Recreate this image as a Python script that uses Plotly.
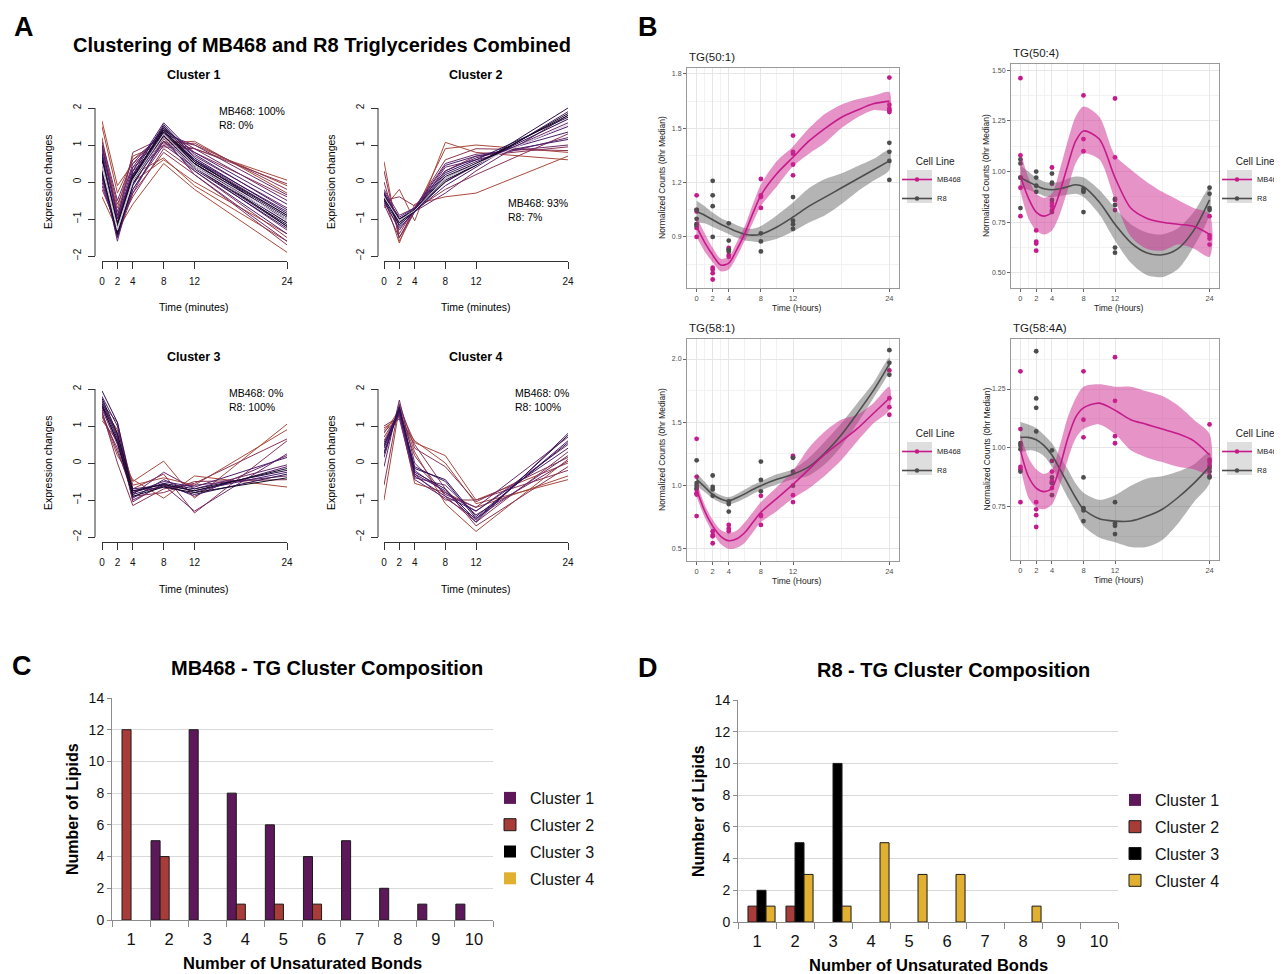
import plotly.graph_objects as go

# The page body has an 8px default margin, so the figure is laid out on a
# 1274x966 canvas that starts 8px in from the window's top-left corner.
OFF = 8
W, H = 1282 - OFF, 974 - OFF


def fx(p):
    return (p - OFF) / W


def fy(p):
    return 1 - (p - OFF) / H


# ---------------- Panel A data (standardised profiles at 0,2,4,8,12,24) ----------------
TIMES = [0, 2, 4, 8, 12, 24]
A_Y_TICKS = [-2, -1, 0, 1, 2]
A_Y_TEXT = ["\u22122", "\u22121", "0", "1", "2"]

C1_PROFILES = [
    [1.65, -0.1, 0.5, 1.1, 0.9, 0.05],
    [-0.4, -1.3, -0.6, 0.5, -0.2, -1.9],
    [1.2, -0.9, 0.2, 0.65, -0.1, -1.6],
    [0.3, -1.0, 0.0, 0.6, 0.0, -1.4],
    [1.5, -0.3, 0.6, 1.15, 1.0, -0.1],
    [0.9, -0.7, 0.7, 1.05, 1.1, -0.3],
    [0.2, -1.5, -0.3, 0.8, 0.2, -1.7],
    [1.0, -0.6, 0.4, 1.0, 1.05, -0.2],
    [-0.2, -1.2, -0.4, 0.9, 0.3, -1.5],
    [0.6, -1.0, 0.8, 1.2, 0.8, -0.4],
    [0.1, -1.1, 0.3, 0.95, 0.9, -0.05],
    [0.5, -1.2, 0.1, 1.3, 0.6, -0.9],
    [0.0, -1.4, -0.2, 1.0, 0.4, -1.3],
    [0.9, -0.8, 0.5, 1.4, 0.9, -0.5],
    [0.3, -1.6, 0.0, 1.1, 0.5, -1.1],
    [0.7, -1.1, 0.3, 1.5, 0.7, -0.7],
    [-0.1, -1.3, -0.3, 1.2, 0.2, -1.6],
    [1.1, -0.5, 0.6, 1.3, 1.0, -0.35],
    [0.4, -1.3, 0.0, 1.3, 0.5, -1.0],
    [0.6, -1.2, 0.2, 1.35, 0.6, -0.8],
    [0.2, -1.5, -0.1, 1.25, 0.4, -1.2],
    [0.8, -0.9, 0.4, 1.45, 0.8, -0.6],
    [0.1, -1.4, -0.2, 1.1, 0.3, -1.4],
    [1.0, -1.0, 0.3, 1.6, 0.75, -0.75],
    [0.5, -1.25, 0.05, 1.4, 0.55, -0.95],
    [0.35, -1.35, -0.05, 1.3, 0.45, -1.1],
    [0.65, -1.1, 0.2, 1.55, 0.65, -0.85],
    [0.25, -1.45, 0.0, 1.2, 0.35, -1.25],
    [0.75, -1.3, 0.1, 1.5, 0.6, -1.05],
    [0.45, -1.3, 0.0, 1.35, 0.5, -1.0],
    [0.55, -1.2, 0.1, 1.45, 0.55, -0.9],
    [0.3, -1.4, -0.05, 1.25, 0.4, -1.15],
    [0.6, -1.15, 0.15, 1.4, 0.5, -1.2],
    [0.5, -1.25, 0.05, 1.3, 0.45, -1.0],
    [0.4, -1.3, 0.0, 1.2, 0.4, -1.05],
]
C1_LEVELS = [0, 0, 0, 0, 0, 0, 1, 1, 1, 1, 1, 2, 2, 2, 2, 2, 2, 2,
             3, 3, 3, 3, 3, 3, 4, 4, 4, 4, 4, 5, 5, 5, 5, 6, 6]

C2_PROFILES = [
    [-0.7, -0.2, -1.05, 1.07, 0.8, 0.6],
    [0.55, -1.6, -0.8, 0.9, 1.0, 0.8],
    [-0.4, -1.65, -0.6, -0.4, -0.3, 0.7],
    [0.0, -1.4, -0.7, 0.6, 0.9, 0.85],
    [-0.5, -0.4, -0.65, 0.3, 0.7, 0.95],
    [0.3, -1.5, -0.75, -0.2, 0.2, 1.3],
    [-0.3, -1.0, -0.8, 0.4, 0.6, 1.2],
    [-0.5, -1.3, -0.75, 0.0, 0.5, 1.6],
    [-0.2, -0.9, -0.7, 0.5, 0.75, 1.0],
    [-0.6, -1.5, -0.8, -0.3, 0.3, 1.8],
    [-0.4, -1.1, -0.75, 0.2, 0.55, 1.5],
    [-0.35, -0.95, -0.7, 0.3, 0.65, 1.35],
    [-0.55, -1.25, -0.8, -0.1, 0.4, 1.9],
    [-0.25, -1.0, -0.72, 0.45, 0.7, 1.15],
    [-0.45, -1.05, -0.78, 0.1, 0.5, 1.7],
    [-0.3, -1.2, -0.74, 0.25, 0.6, 1.75],
    [-0.5, -1.15, -0.8, 0.0, 0.45, 2.0],
    [-0.4, -1.0, -0.76, 0.15, 0.5, 1.8],
    [-0.45, -1.1, -0.78, 0.05, 0.45, 1.85],
    [-0.4, -1.05, -0.77, 0.1, 0.48, 1.55],
]
C2_LEVELS = [0, 0, 0, 1, 1, 1, 2, 2, 2, 2, 3, 3, 3, 3, 4, 4, 4, 5, 5, 6]

C3_PROFILES = [
    [1.15, 0.6, -0.5, 0.05, -0.95, 1.05],
    [1.3, 0.2, -0.45, -0.95, -0.35, -0.65],
    [1.5, 0.9, -0.6, -0.4, -0.6, 0.9],
    [1.4, 0.0, -1.15, -0.7, -0.55, 0.65],
    [1.6, 1.1, -0.7, -0.3, -1.35, 0.6],
    [1.25, 0.4, -0.9, -0.8, -0.5, -0.45],
    [1.7, 0.7, -1.0, -0.6, -1.3, 0.25],
    [1.45, 0.5, -0.85, -0.25, -0.7, -0.05],
    [1.55, 0.8, -1.05, -0.55, -0.9, 0.2],
    [1.35, 0.3, -0.75, -0.65, -0.6, -0.35],
    [1.65, 0.75, -0.8, -0.5, -0.65, 0.15],
    [1.8, 1.0, -0.95, -0.45, -0.8, -0.1],
    [1.5, 0.6, -0.7, -0.6, -0.75, -0.25],
    [1.95, 1.1, -0.8, -0.55, -0.7, -0.2],
    [1.6, 0.65, -0.85, -0.62, -0.85, -0.3],
    [1.75, 0.8, -0.75, -0.58, -0.75, -0.15],
    [1.55, 0.55, -0.9, -0.65, -0.8, -0.4],
]
C3_LEVELS = [0, 0, 0, 1, 1, 1, 2, 2, 2, 2, 3, 3, 3, 4, 4, 5, 5]

C4_PROFILES = [
    [-1.0, 1.5, 0.55, 0.2, -1.0, 0.0],
    [0.95, 1.2, 0.6, 0.0, -1.1, -0.45],
    [0.8, 1.45, 0.3, -1.1, -1.85, 0.1],
    [0.9, 1.3, -0.55, -0.8, -1.2, -0.35],
    [-0.6, 1.6, 0.4, -0.1, -1.05, 0.15],
    [1.0, 1.25, 0.5, -0.7, -1.7, -0.1],
    [0.6, 1.4, -0.3, -1.0, -1.0, -0.2],
    [0.7, 1.35, 0.2, -0.9, -1.6, 0.3],
    [0.3, 1.5, -0.2, -0.8, -1.3, 0.5],
    [0.5, 1.3, -0.4, -0.6, -1.4, 0.05],
    [-0.1, 1.7, 0.0, -0.85, -1.2, 0.7],
    [0.85, 1.2, -0.45, -0.95, -1.5, 0.2],
    [0.4, 1.4, -0.1, -0.5, -1.5, 0.6],
    [0.15, 1.55, -0.3, -0.75, -1.6, 0.8],
    [0.55, 1.35, -0.35, -0.9, -1.3, 0.4],
    [0.25, 1.45, -0.25, -0.7, -1.55, 0.75],
    [0.45, 1.5, -0.15, -0.45, -1.45, 0.55],
]
C4_LEVELS = [0, 0, 0, 0, 1, 1, 1, 1, 2, 2, 2, 2, 3, 3, 3, 4, 4]

MEMBERSHIP_COLORS = ["#a84a3c", "#8b3554", "#6c2a6a", "#4c1d6c", "#2c1150", "#150a24", "#dcd6e0"]

CLUSTER_NAMES = ["Cluster 1", "Cluster 2", "Cluster 3", "Cluster 4"]
CLUSTER_SHARE = ["MB468: 100%<br>R8: 0%", "MB468: 93%<br>R8: 7%",
                 "MB468: 0%<br>R8: 100%", "MB468: 0%<br>R8: 100%"]

# ---------------- Panel B data ----------------
B_SMOOTH_T = [0, 1, 2, 3, 4, 5, 6, 7, 8, 10, 12, 14, 16, 18, 20, 22, 24]

TG501_MB_PTS = [[1.13, 1.05, 1.04, 0.97, 0.95, 0.90], [0.73, 0.72, 0.70, 0.665],
                [0.84, 0.83, 0.80, 0.79], [1.22, 1.13, 1.12, 1.06],
                [1.46, 1.37, 1.36, 1.30, 1.24], [1.78, 1.63, 1.61, 1.60, 1.59]]
TG501_R8_PTS = [[1.05, 1.00, 0.97, 0.96], [1.21, 1.13, 1.07, 0.90], [0.975, 0.88, 0.83, 0.82],
                [0.92, 0.875, 0.82], [1.12, 0.99, 0.97, 0.945], [1.42, 1.37, 1.32, 1.215]]
TG501_MB_FIT = [0.955, 0.87, 0.80, 0.745, 0.755, 0.83, 0.92, 1.03, 1.13, 1.25, 1.34, 1.43, 1.50, 1.56, 1.60, 1.635, 1.65]
TG501_MB_LO = [0.90, 0.82, 0.76, 0.71, 0.72, 0.79, 0.88, 0.98, 1.07, 1.18, 1.29, 1.36, 1.42, 1.50, 1.56, 1.60, 1.60]
TG501_MB_HI = [1.01, 0.92, 0.84, 0.78, 0.79, 0.87, 0.96, 1.08, 1.19, 1.32, 1.40, 1.50, 1.58, 1.63, 1.66, 1.68, 1.70]
TG501_R8_FIT = [1.04, 1.02, 0.995, 0.97, 0.95, 0.93, 0.915, 0.91, 0.915, 0.955, 1.01, 1.07, 1.12, 1.17, 1.22, 1.27, 1.32]
TG501_R8_LO = [0.98, 0.975, 0.955, 0.935, 0.915, 0.895, 0.88, 0.875, 0.87, 0.89, 0.93, 0.98, 1.02, 1.08, 1.15, 1.21, 1.27]
TG501_R8_HI = [1.10, 1.07, 1.035, 1.005, 0.985, 0.965, 0.95, 0.945, 0.96, 1.02, 1.09, 1.17, 1.22, 1.25, 1.29, 1.33, 1.38]

TG504_MB_PTS = [[1.46, 1.08, 0.97, 0.92, 0.78], [0.71, 0.655, 0.645, 0.61],
                [1.02, 0.94, 0.845, 0.83, 0.81], [1.375, 1.16, 1.10],
                [1.36, 1.07, 0.86, 0.81], [0.78, 0.685, 0.67, 0.64]]
TG504_R8_PTS = [[1.06, 1.04, 0.97, 0.82], [1.0, 0.97, 0.93, 0.90], [0.99, 0.945, 0.86, 0.80],
                [0.915, 0.905, 0.90, 0.80], [0.865, 0.835, 0.625, 0.60], [0.92, 0.89, 0.82, 0.81]]
TG504_MB_FIT = [0.975, 0.87, 0.80, 0.78, 0.80, 0.90, 1.03, 1.15, 1.20, 1.16, 0.97, 0.82, 0.77, 0.75, 0.74, 0.73, 0.69]
TG504_MB_LO = [0.90, 0.77, 0.71, 0.69, 0.71, 0.79, 0.91, 1.04, 1.09, 1.06, 0.86, 0.68, 0.62, 0.61, 0.64, 0.62, 0.58]
TG504_MB_HI = [1.10, 0.97, 0.89, 0.87, 0.89, 1.01, 1.15, 1.27, 1.32, 1.27, 1.08, 1.01, 0.95, 0.90, 0.86, 0.82, 0.79]
TG504_R8_FIT = [0.97, 0.95, 0.93, 0.915, 0.91, 0.915, 0.925, 0.935, 0.925, 0.85, 0.74, 0.65, 0.60, 0.59, 0.62, 0.71, 0.86]
TG504_R8_LO = [0.92, 0.91, 0.895, 0.88, 0.875, 0.88, 0.885, 0.89, 0.875, 0.79, 0.66, 0.55, 0.49, 0.48, 0.52, 0.63, 0.79]
TG504_R8_HI = [1.03, 1.0, 0.97, 0.95, 0.945, 0.95, 0.965, 0.975, 0.97, 0.91, 0.82, 0.74, 0.70, 0.69, 0.72, 0.80, 0.92]

TG581_MB_PTS = [[1.37, 1.07, 0.97, 0.94, 0.93, 0.76], [0.64, 0.61, 0.60, 0.545],
                [0.69, 0.66, 0.64], [0.92, 0.77, 0.76, 0.69],
                [1.235, 1.225, 0.925, 0.87], [1.91, 1.69, 1.62, 1.56]]
TG581_R8_PTS = [[1.2, 1.02, 1.0, 0.98], [1.08, 0.99, 0.97, 0.92], [0.875, 0.855, 0.795],
                [1.19, 1.045, 0.955], [1.22, 1.11, 1.0], [2.07, 1.97, 1.875]]
TG581_MB_FIT = [0.97, 0.80, 0.68, 0.60, 0.565, 0.58, 0.63, 0.71, 0.79, 0.90, 1.01, 1.13, 1.25, 1.35, 1.45, 1.57, 1.69]
TG581_MB_LO = [0.91, 0.75, 0.63, 0.54, 0.50, 0.51, 0.55, 0.63, 0.71, 0.80, 0.90, 0.98, 1.08, 1.20, 1.35, 1.49, 1.60]
TG581_MB_HI = [1.03, 0.85, 0.73, 0.65, 0.625, 0.645, 0.71, 0.79, 0.87, 0.99, 1.12, 1.30, 1.43, 1.52, 1.56, 1.65, 1.78]
TG581_R8_FIT = [1.05, 0.99, 0.93, 0.895, 0.88, 0.905, 0.935, 0.97, 1.00, 1.05, 1.09, 1.15, 1.26, 1.40, 1.57, 1.75, 1.96]
TG581_R8_LO = [1.0, 0.95, 0.90, 0.865, 0.85, 0.87, 0.90, 0.935, 0.965, 1.01, 1.05, 1.08, 1.17, 1.31, 1.49, 1.69, 1.91]
TG581_R8_HI = [1.10, 1.03, 0.96, 0.925, 0.91, 0.935, 0.97, 1.005, 1.035, 1.09, 1.13, 1.22, 1.35, 1.49, 1.65, 1.81, 2.01]

TG584A_MB_PTS = [[1.325, 1.08, 0.92, 0.91, 0.77], [0.77, 0.74, 0.715, 0.665],
                 [0.945, 0.90, 0.86, 0.855, 0.83], [1.325, 1.12, 1.045],
                 [1.385, 1.20, 1.05, 1.02], [1.10, 0.95, 0.94, 0.925, 0.88]]
TG584A_R8_PTS = [[1.02, 1.01, 0.995, 0.90], [1.41, 1.21, 1.17, 1.07], [0.99, 0.875, 0.85, 0.80],
                 [0.875, 0.745, 0.735, 0.69], [0.77, 0.68, 0.67, 0.635], [0.915, 0.90, 0.875]]
TG584A_MB_FIT = [0.99, 0.88, 0.83, 0.815, 0.83, 0.92, 1.04, 1.13, 1.17, 1.19, 1.16, 1.12, 1.10, 1.08, 1.06, 1.03, 0.97]
TG584A_MB_LO = [0.92, 0.79, 0.75, 0.74, 0.76, 0.84, 0.95, 1.04, 1.08, 1.10, 1.06, 0.99, 0.96, 0.94, 0.92, 0.91, 0.89]
TG584A_MB_HI = [1.06, 0.96, 0.91, 0.89, 0.91, 1.01, 1.13, 1.21, 1.26, 1.27, 1.26, 1.26, 1.24, 1.22, 1.18, 1.12, 1.06]
TG584A_R8_FIT = [1.045, 1.045, 1.035, 1.01, 0.97, 0.91, 0.85, 0.79, 0.74, 0.70, 0.69, 0.69, 0.71, 0.74, 0.79, 0.85, 0.92]
TG584A_R8_LO = [0.98, 0.99, 0.985, 0.965, 0.92, 0.855, 0.79, 0.73, 0.67, 0.62, 0.60, 0.58, 0.58, 0.61, 0.68, 0.77, 0.85]
TG584A_R8_HI = [1.11, 1.10, 1.085, 1.055, 1.02, 0.965, 0.91, 0.85, 0.81, 0.78, 0.80, 0.84, 0.87, 0.88, 0.90, 0.93, 0.98]

B_TITLES = ["TG(50:1)", "TG(50:4)", "TG(58:1)", "TG(58:4A)"]
B_YTICKS = [[0.9, 1.2, 1.5, 1.8], [0.5, 0.75, 1.0, 1.25, 1.5], [0.5, 1.0, 1.5, 2.0], [0.75, 1.0, 1.25]]
B_YTEXT = [["0.9", "1.2", "1.5", "1.8"], ["0.50", "0.75", "1.00", "1.25", "1.50"],
           ["0.5", "1.0", "1.5", "2.0"], ["0.75", "1.00", "1.25"]]
B_YMINOR = [[0.75, 1.05, 1.35, 1.65], [0.625, 0.875, 1.125, 1.375],
            [0.75, 1.25, 1.75], [0.625, 0.875, 1.125, 1.375]]
B_XMINOR = [1, 3, 6, 10, 18]
B_YRANGE = [[0.618, 1.833], [0.426, 1.53], [0.405, 2.158], [0.525, 1.462]]
MB_COLOR = "#c51b8a"
R8_COLOR = "#4d4d4d"
MB_FILL = "rgba(205,40,145,0.5)"
R8_FILL = "rgba(77,77,77,0.42)"

# ---------------- Panels C/D data ----------------
BONDS = ["1", "2", "3", "4", "5", "6", "7", "8", "9", "10"]
MB468_COUNTS = [
    [0, 5, 12, 8, 6, 4, 5, 2, 1, 1],   # Cluster 1
    [12, 4, 0, 1, 1, 1, 0, 0, 0, 0],   # Cluster 2
    [0, 0, 0, 0, 0, 0, 0, 0, 0, 0],    # Cluster 3
    [0, 0, 0, 0, 0, 0, 0, 0, 0, 0],    # Cluster 4
]
R8_COUNTS = [
    [0, 0, 0, 0, 0, 0, 0, 0, 0, 0],
    [1, 1, 0, 0, 0, 0, 0, 0, 0, 0],
    [2, 5, 10, 0, 0, 0, 0, 0, 0, 0],
    [1, 3, 1, 5, 3, 3, 0, 1, 0, 0],
]
CLUSTER_COLORS = ["#5c1858", "#a83c38", "#000000", "#e2b030"]

FONT = "Liberation Sans, Arial, Helvetica, sans-serif"
NBSP = "\u00a0"

fig = go.Figure()
annotations = []
shapes = []


def sfx(k):
    return "" if k == 1 else str(k)


def ann(text, x, y, size, bold=False, color="#000", xanchor="center", yanchor="middle", angle=0, family=FONT):
    annotations.append(dict(
        text=("<b>%s</b>" % text) if bold else text, x=fx(x), y=fy(y), xref="paper", yref="paper",
        showarrow=False, xanchor=xanchor, yanchor=yanchor, textangle=angle,
        font=dict(size=size, color=color, family=family), align="left"))


layout = dict(width=W, height=H, margin=dict(l=0, r=0, t=0, b=0, autoexpand=False),
              paper_bgcolor="white", plot_bgcolor="white", showlegend=True,
              font=dict(family=FONT, color="#000"), bargap=0.05, bargroupgap=0.0,
              barmode="group")

# ---------------- Panel A ----------------
A_PANELS = [  # x0, x1, y(2), y(-2), y-axis line x, x-axis line y
    (102, 287, 108, 256, 95, 261),
    (384, 568, 108, 256, 378, 261),
    (102, 287, 389, 537, 95, 542),
    (384, 568, 389, 537, 378, 542),
]
A_PROFILES = [C1_PROFILES, C2_PROFILES, C3_PROFILES, C4_PROFILES]
A_LEVELS = [C1_LEVELS, C2_LEVELS, C3_LEVELS, C4_LEVELS]
A_TITLE_POS = [(194, 75), (476, 75), (194, 357), (476, 357)]
A_SHARE_POS = [(217, 118), (506, 210), (227, 400), (513, 400)]

for i, (x0, x1, yt, yb, yax, xax) in enumerate(A_PANELS):
    k = i + 1
    s = sfx(k)
    order = sorted(range(len(A_PROFILES[i])), key=lambda j: A_LEVELS[i][j])
    for j in order:
        fig.add_trace(go.Scatter(
            x=TIMES, y=A_PROFILES[i][j], mode="lines",
            line=dict(color=MEMBERSHIP_COLORS[A_LEVELS[i][j]], width=1),
            xaxis="x" + s, yaxis="y" + s, showlegend=False, hoverinfo="skip"))
    pad = 0.05 * 37
    layout["xaxis" + s] = dict(
        domain=[fx(x0), fx(x1)], range=[0, 24], anchor="free", position=fy(xax),
        tickvals=TIMES, ticks="outside", ticklen=7, tickcolor="#333", showline=True,
        linecolor="#333", linewidth=1, showgrid=False, zeroline=False,
        tickfont=dict(size=10, color="#111"), ticklabelstandoff=4)
    layout["yaxis" + s] = dict(
        domain=[fy(yb + pad), fy(yt - pad)], range=[-2.05, 2.05], anchor="free", position=fx(yax),
        tickvals=A_Y_TICKS, ticktext=A_Y_TEXT, tickangle=-90, ticks="outside", ticklen=7,
        tickcolor="#333", showline=False, showgrid=False, zeroline=False,
        tickfont=dict(size=10, color="#111"), ticklabelstandoff=3)
    # axis line limited to the tick span (base-R style)
    shapes.append(dict(type="line", xref="paper", yref="y" + s, x0=fx(yax), x1=fx(yax),
                       y0=-2, y1=2, line=dict(color="#333", width=1)))
    tx, ty = A_TITLE_POS[i]
    ann(CLUSTER_NAMES[i], tx, ty, 12.5, bold=True)
    sx, sy = A_SHARE_POS[i]
    ann(CLUSTER_SHARE[i], sx, sy, 10.5, xanchor="left")
    ann("Time (minutes)", tx, ty + 232, 10.5)
    ann("Expression changes", x0 - 54 + (0 if i % 2 == 0 else 1), (yt + yb) / 2, 10.5, angle=-90)

ann("A", 24, 27, 27, bold=True)
ann("Clustering of MB468 and R8 Triglycerides Combined", 322, 45, 20, bold=True)

# ---------------- Panel B ----------------
B_PANELS = [  # x0, x1, ytop, ybot
    (687, 899, 68, 288),
    (1011, 1219, 64, 288),
    (687, 899, 339, 561),
    (1011, 1219, 339, 560),
]
B_DATA = [
    (TG501_MB_PTS, TG501_MB_FIT, TG501_MB_LO, TG501_MB_HI, TG501_R8_PTS, TG501_R8_FIT, TG501_R8_LO, TG501_R8_HI),
    (TG504_MB_PTS, TG504_MB_FIT, TG504_MB_LO, TG504_MB_HI, TG504_R8_PTS, TG504_R8_FIT, TG504_R8_LO, TG504_R8_HI),
    (TG581_MB_PTS, TG581_MB_FIT, TG581_MB_LO, TG581_MB_HI, TG581_R8_PTS, TG581_R8_FIT, TG581_R8_LO, TG581_R8_HI),
    (TG584A_MB_PTS, TG584A_MB_FIT, TG584A_MB_LO, TG584A_MB_HI, TG584A_R8_PTS, TG584A_R8_FIT, TG584A_R8_LO, TG584A_R8_HI),
]
B_LEGEND_POS = [(897, 152), (1217, 152), (897, 424), (1217, 424)]

for i, (x0, x1, yt, yb) in enumerate(B_PANELS):
    k = 5 + i
    s = str(k)
    leg = "legend" if i == 0 else "legend%d" % (i + 1)
    mb_pts, mb_fit, mb_lo, mb_hi, r8_pts, r8_fit, r8_lo, r8_hi = B_DATA[i]
    for pts, col in ((mb_pts, MB_COLOR), (r8_pts, R8_COLOR)):
        xs, ys = [], []
        for t, vals in zip(TIMES, pts):
            for v in vals:
                xs.append(t)
                ys.append(v)
        fig.add_trace(go.Scatter(x=xs, y=ys, mode="markers", marker=dict(size=4.8, color=col),
                                 xaxis="x" + s, yaxis="y" + s, showlegend=False, hoverinfo="skip"))
    for lo, hi, fill in ((r8_lo, r8_hi, R8_FILL), (mb_lo, mb_hi, MB_FILL)):
        fig.add_trace(go.Scatter(x=B_SMOOTH_T + B_SMOOTH_T[::-1], y=hi + lo[::-1], fill="toself",
                                 fillcolor=fill, mode="lines", line=dict(width=0, shape="spline", smoothing=0.8),
                                 xaxis="x" + s, yaxis="y" + s, showlegend=False, hoverinfo="skip"))
    for fit, col in ((r8_fit, R8_COLOR), (mb_fit, MB_COLOR)):
        fig.add_trace(go.Scatter(x=B_SMOOTH_T, y=fit, mode="lines",
                                 line=dict(color=col, width=1.6, shape="spline", smoothing=0.8),
                                 xaxis="x" + s, yaxis="y" + s, showlegend=False, hoverinfo="skip"))
    for name, col in (("MB468", MB_COLOR), ("R8", R8_COLOR)):
        fig.add_trace(go.Scatter(x=[None], y=[None], mode="lines+markers", name=name,
                                 line=dict(color=col, width=1.6), marker=dict(size=4.5, color=col),
                                 xaxis="x" + s, yaxis="y" + s, legend=leg))
    layout["xaxis" + s] = dict(
        domain=[fx(x0), fx(x1)], range=[-1.2, 25.2], anchor="y" + s, tickvals=TIMES,
        showgrid=True, gridcolor="#e6e6e6", gridwidth=1,
        minor=dict(tickvals=B_XMINOR, showgrid=True, gridcolor="#f2f2f2", gridwidth=0.6),
        showline=True, mirror=True, linecolor="#9a9a9a", linewidth=1, zeroline=False,
        ticks="outside", ticklen=3, tickcolor="#666", tickfont=dict(size=7.5, color="#4d4d4d"))
    layout["yaxis" + s] = dict(
        domain=[fy(yb), fy(yt)], range=B_YRANGE[i], anchor="x" + s, tickvals=B_YTICKS[i],
        ticktext=B_YTEXT[i], showgrid=True, gridcolor="#e6e6e6", gridwidth=1,
        minor=dict(tickvals=B_YMINOR[i], showgrid=True, gridcolor="#f2f2f2", gridwidth=0.6),
        showline=True, mirror=True, linecolor="#9a9a9a", linewidth=1, zeroline=False,
        ticks="outside", ticklen=3, tickcolor="#666", tickfont=dict(size=7, color="#4d4d4d"))
    ann(B_TITLES[i], x0, yt - 11, 11.5, xanchor="left", color="#1a1a1a")
    ann("Time (Hours)", (x0 + x1) / 2 + 3, yb + 20, 8.5, color="#1a1a1a")
    ann("Normalized Counts (0hr Median)", x0 - 25, (yt + yb) / 2, 8.5, angle=-90, color="#1a1a1a")
    lx, ly = B_LEGEND_POS[i]
    layout[leg] = dict(x=fx(lx), y=fy(ly), xanchor="left", yanchor="top", bgcolor="rgba(0,0,0,0)",
                       title=dict(text=NBSP * 6 + "Cell Line", font=dict(size=10, color="#1a1a1a")),
                       font=dict(size=7.5, color="#1a1a1a"), itemwidth=30, tracegroupgap=0)
    # grey legend-key background (ggplot smooth key)
    shapes.append(dict(type="rect", xref="paper", yref="paper", layer="below",
                       x0=fx(lx + 10), x1=fx(lx + 35), y0=fy(ly + 18), y1=fy(ly + 51),
                       fillcolor="#dedede", line=dict(width=0)))

ann("B", 648, 27, 27, bold=True)

# ---------------- Panels C & D ----------------
CD_PANELS = [  # x0, x1, ytop(14), ybot(0), legend pos, title, title pos, letter, letter pos, counts
    (112, 493, 698, 920, (490, 781), "MB468 - TG Cluster Composition", (327, 668), "C", (22, 666), MB468_COUNTS),
    (738, 1118, 700, 922, (1115, 783), "R8 - TG Cluster Composition", (953, 670), "D", (648, 668), R8_COUNTS),
]
for i, (x0, x1, yt, yb, lpos, title, tpos, letter, lepos, counts) in enumerate(CD_PANELS):
    k = 9 + i
    s = str(k)
    leg = "legend%d" % (5 + i)
    for c in range(4):
        fig.add_trace(go.Bar(x=BONDS, y=counts[c], name=CLUSTER_NAMES[c],
                             marker=dict(color=CLUSTER_COLORS[c],
                                         line=dict(color="#1a1a1a",
                                                   width=[1 if v > 0 else 0 for v in counts[c]])),
                             xaxis="x" + s, yaxis="y" + s, legend=leg, offsetgroup=str(c),
                             legendgroup="%s_%d" % (leg, c), hoverinfo="skip"))
    layout["xaxis" + s] = dict(
        domain=[fx(x0), fx(x1)], anchor="y" + s, type="category", tickson="boundaries",
        ticks="outside", ticklen=6, tickcolor="#8c8c8c", showline=True, linecolor="#8c8c8c",
        linewidth=1, showgrid=False, zeroline=False, tickfont=dict(size=16.5, color="#111"),
        ticklabelstandoff=4)
    layout["yaxis" + s] = dict(
        domain=[fy(yb), fy(yt)], anchor="x" + s, range=[0, 14], tickvals=[0, 2, 4, 6, 8, 10, 12, 14],
        showgrid=True, gridcolor="#d9d9d9", gridwidth=1, showline=True, linecolor="#8c8c8c",
        linewidth=1, zeroline=False, ticks="outside", ticklen=4, tickcolor="#8c8c8c",
        tickfont=dict(size=14, color="#111"))
    layout[leg] = dict(x=fx(lpos[0]), y=fy(lpos[1]), xanchor="left", yanchor="top",
                       bgcolor="rgba(0,0,0,0)", font=dict(size=16, color="#111"),
                       itemwidth=30, tracegroupgap=3, traceorder="grouped")
    ann(title, tpos[0], tpos[1], 20, bold=True)
    ann(letter, lepos[0], lepos[1], 27, bold=True)
    ann("Number of Lipids", x0 - 40, (yt + yb) / 2, 16, bold=True, angle=-90)
    ann("Number of Unsaturated Bonds", (x0 + x1) / 2, yb + 43, 16.5, bold=True)

layout["annotations"] = annotations
layout["shapes"] = shapes
fig.update_layout(**layout)
fig.write_html("out.html")
